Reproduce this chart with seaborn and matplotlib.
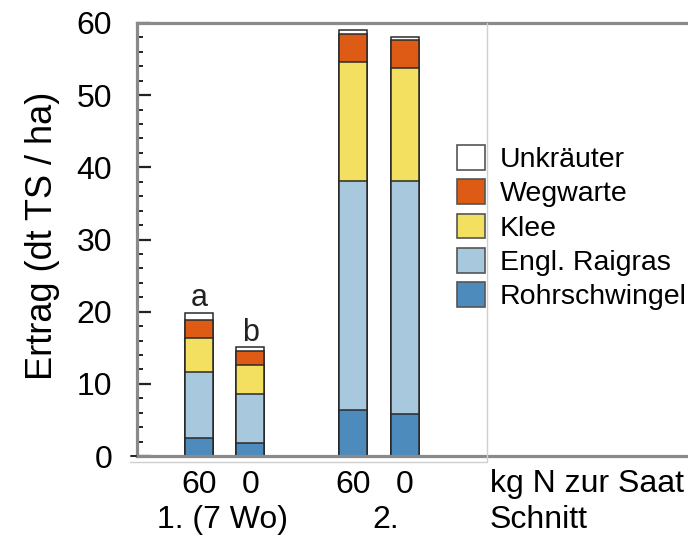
import numpy as np
import pandas as pd
import matplotlib
matplotlib.use("Agg")
import matplotlib.pyplot as plt
from matplotlib.patches import Patch
from matplotlib.lines import Line2D
import seaborn as sns

# ---- data ----
bars = ["1-60", "1-0", "2-60", "2-0"]
order = ["1-60", "1-0", "gap", "2-60", "2-0"]
n_labels = ["60", "0", "60", "0"]
cut_labels = ["1. (7 Wo)", "2."]
species = ["Rohrschwingel", "Engl. Raigras", "Klee", "Wegwarte", "Unkräuter"]
rohrschwingel = [2.5, 1.75, 6.4, 5.8]
raigras = [9.2, 6.8, 31.7, 32.3]
klee = [4.6, 4.1, 16.5, 15.7]
wegwarte = [2.6, 1.95, 3.9, 3.8]
unkraeuter = [0.95, 0.45, 0.5, 0.4]
letters = ["a", "b", "", ""]
colors = ["#4d8bbd", "#a8c8de", "#f3df60", "#dd5b15", "#ffffff"]

sns.set_style("white")
plt.rcParams["font.family"] = ["Liberation Sans", "DejaVu Sans"]
for k in ["text.color", "axes.labelcolor", "xtick.color", "ytick.color"]:
    plt.rcParams[k] = "black"

fig = plt.figure(figsize=(6.88, 5.4), dpi=100)
ax = fig.add_axes([137/688, 84/540, 551/688, 433/540])

layers = [rohrschwingel, raigras, klee, wegwarte, unkraeuter]
cum = np.cumsum(np.array(layers), axis=0)
for i in range(len(layers) - 1, -1, -1):
    df = pd.DataFrame({"bar": bars, "val": cum[i]})
    sns.barplot(data=df, x="bar", y="val", order=order, color=colors[i],
                saturation=1, width=0.544, edgecolor="#2a2a2a", linewidth=1.1,
                errorbar=None, ax=ax)

# letters above bars
pos = [order.index(b) for b in bars]
for p, t, top in zip(pos, letters, cum[-1]):
    if t:
        ax.text(p, top + 0.95, t, ha="center", va="baseline", fontsize=22, color="#222")

ax.set_ylim(0, 60)
ax.set_xlim(-1.204, 9.5)
ax.set_yticks(np.arange(0, 61, 10))
ax.set_yticks(np.arange(0, 61, 2), minor=True)
ax.tick_params(axis="y", which="major", direction="in", length=10, width=1.6,
               color="#222", labelcolor="black", labelsize=23, pad=18, left=True)
ax.tick_params(axis="y", which="minor", direction="in", length=4.5, width=1.4,
               color="#222", left=True)
ax.set_xticks(pos)
ax.set_xticklabels(n_labels)
ax.tick_params(axis="x", length=0, labelsize=23, pad=10, labelcolor="black")
ax.set_xlabel("")
ax.set_ylabel("Ertrag (dt TS / ha)", fontsize=26, color="black")
ax.yaxis.set_label_coords(-0.14, 0.508)

for s in ["left", "top", "bottom"]:
    ax.spines[s].set_color("#8a8a8a")
    ax.spines[s].set_linewidth(2.3)
ax.spines["right"].set_visible(False)

tr = ax.get_xaxis_transform()
ax.text(0.45, -0.166, cut_labels[0], transform=tr, ha="center", va="baseline", fontsize=23)
ax.text(3.62, -0.166, cut_labels[1], transform=tr, ha="center", va="baseline", fontsize=23)
ax.text(5.65, -0.083, "kg N zur Saat", transform=tr, ha="left", va="baseline", fontsize=23)
ax.text(5.65, -0.166, "Schnitt", transform=tr, ha="left", va="baseline", fontsize=23)

# thin frame lines
fig.add_artist(Line2D([487/688, 487/688], [1 - 23/540, 1 - 462/540],
                      color="#cfcfcf", lw=1.0, transform=fig.transFigure))
fig.add_artist(Line2D([130/688, 487/688], [1 - 462/540, 1 - 462/540],
                      color="#cfcfcf", lw=1.0, transform=fig.transFigure))
fig.add_artist(Line2D([131/688, 136/688], [1 - 455.5/540, 1 - 455.5/540],
                      color="#222", lw=1.4, transform=fig.transFigure))

handles = [Patch(facecolor=colors[i], edgecolor="#555555", linewidth=1.2, label=species[i])
           for i in range(len(species) - 1, -1, -1)]
fig.legend(handles=handles, loc="upper left", bbox_to_anchor=(457/688, 1 - 145/540),
           frameon=False, fontsize=20.5, handlelength=1.0, handleheight=0.95,
           handletextpad=0.5, labelspacing=0.22, borderpad=0, borderaxespad=0)

fig.savefig("out.png", dpi=100)
